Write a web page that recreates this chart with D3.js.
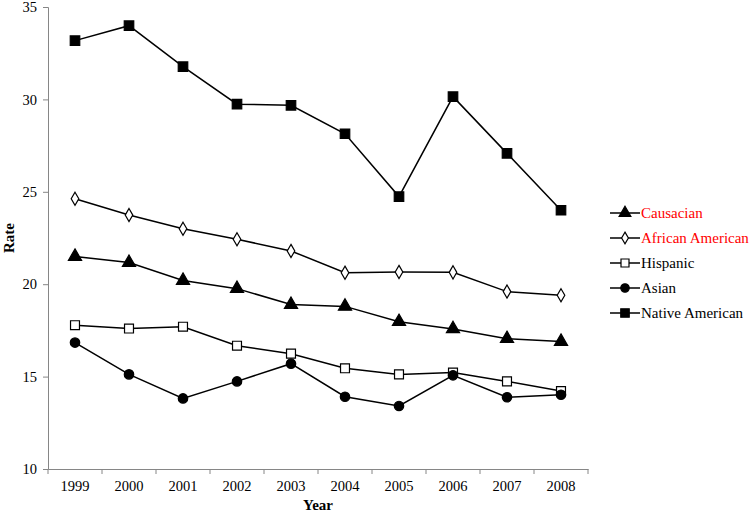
<!DOCTYPE html>
<html><head><meta charset="utf-8">
<script src="https://cdn.jsdelivr.net/npm/d3@7"></script>
<style>body{margin:0;background:#fff}svg{display:block}</style>
</head><body><svg id="c" width="750" height="514"></svg>
<script>
const years = ["1999","2000","2001","2002","2003","2004","2005","2006","2007","2008"];
const causasian = [21.5,21.17,20.2,19.76,18.9,18.8,17.97,17.58,17.05,16.9];
const africanAmerican = [24.62,23.74,23.0,22.43,21.8,20.62,20.66,20.64,19.6,19.4];
const hispanic = [17.78,17.6,17.7,16.67,16.24,15.45,15.12,15.22,14.74,14.22];
const asian = [16.84,15.12,13.82,14.74,15.7,13.91,13.41,15.07,13.88,14.02];
const nativeAmerican = [33.18,33.99,31.77,29.74,29.68,28.14,24.74,30.15,27.08,24.0];
const yTicks = [10,15,20,25,30,35];
const seriesNames = ["Causacian","African American","Hispanic","Asian","Native American"];

const FONT = "'Liberation Serif','Times New Roman',serif";
const series = [
  {name:seriesNames[0], values:causasian, sym:d3.symbolTriangle, size:75, fill:"#000", color:"#ff0000"},
  {name:seriesNames[1], values:africanAmerican, sym:d3.symbolDiamond, size:50, fill:"#fff", color:"#ff0000"},
  {name:seriesNames[2], values:hispanic, sym:d3.symbolSquare, size:80, fill:"#fff", color:"#000"},
  {name:seriesNames[3], values:asian, sym:d3.symbolCircle, size:70, fill:"#000", color:"#000"},
  {name:seriesNames[4], values:nativeAmerican, sym:d3.symbolSquare, size:90, fill:"#000", color:"#000"}
];

const svg = d3.select("#c");
const L=48, R=588, T=7, B=469;
const x = d3.scaleBand().domain(years).range([L,R]);
const y = d3.scaleLinear().domain([10,35]).range([B,T]);

const yAxis = svg.append("g").attr("transform",`translate(${L},0)`)
  .call(d3.axisLeft(y).tickValues(yTicks).tickSize(5).tickPadding(6));
const xAxis = svg.append("g").attr("transform",`translate(0,${B})`)
  .call(d3.axisBottom(x).tickSize(0).tickPadding(12));
[yAxis,xAxis].forEach(g=>{
  g.attr("font-family", FONT).attr("font-size", 14.5);
  g.select(".domain").attr("stroke","#868686");
  g.selectAll(".tick line").attr("stroke","#868686");
  g.selectAll("text").attr("fill","#000");
});
const bounds = years.map(d=>x(d)).concat([R]);
svg.append("g").selectAll("line").data(bounds).join("line")
  .attr("x1",d=>d).attr("x2",d=>d).attr("y1",B).attr("y2",B+5).attr("stroke","#868686");

const line = d3.line().x((d,i)=>x(years[i])+x.bandwidth()/2).y(d=>y(d));
series.forEach(s=>{
  svg.append("path").attr("d",line(s.values)).attr("fill","none").attr("stroke","#000").attr("stroke-width",1.5);
  svg.append("g").selectAll("path").data(s.values).join("path")
    .attr("d",d3.symbol(s.sym,s.size))
    .attr("transform",(d,i)=>`translate(${x(years[i])+x.bandwidth()/2},${y(d)})`)
    .attr("fill",s.fill).attr("stroke","#000").attr("stroke-width",1.2);
});

svg.append("text").attr("x",(L+R)/2).attr("y",510).attr("text-anchor","middle")
  .attr("font-family",FONT).attr("font-size",15).attr("font-weight","bold").text("Year");
svg.append("text").attr("transform","translate(14,238) rotate(-90)").attr("text-anchor","middle")
  .attr("font-family",FONT).attr("font-size",15).attr("font-weight","bold").text("Rate");

const lg = svg.append("g").attr("font-family",FONT).attr("font-size",15);
series.forEach((s,i)=>{
  const yy = 213 + i*25;
  lg.append("line").attr("x1",610).attr("x2",640).attr("y1",yy).attr("y2",yy).attr("stroke","#000").attr("stroke-width",1.5);
  lg.append("path").attr("d",d3.symbol(s.sym,s.size*0.8)).attr("transform",`translate(625,${yy})`)
    .attr("fill",s.fill).attr("stroke","#000").attr("stroke-width",1.2);
  lg.append("text").attr("x",641).attr("y",yy).attr("dy","0.35em")
    .attr("fill",s.color).text(s.name);
});
</script></body></html>
